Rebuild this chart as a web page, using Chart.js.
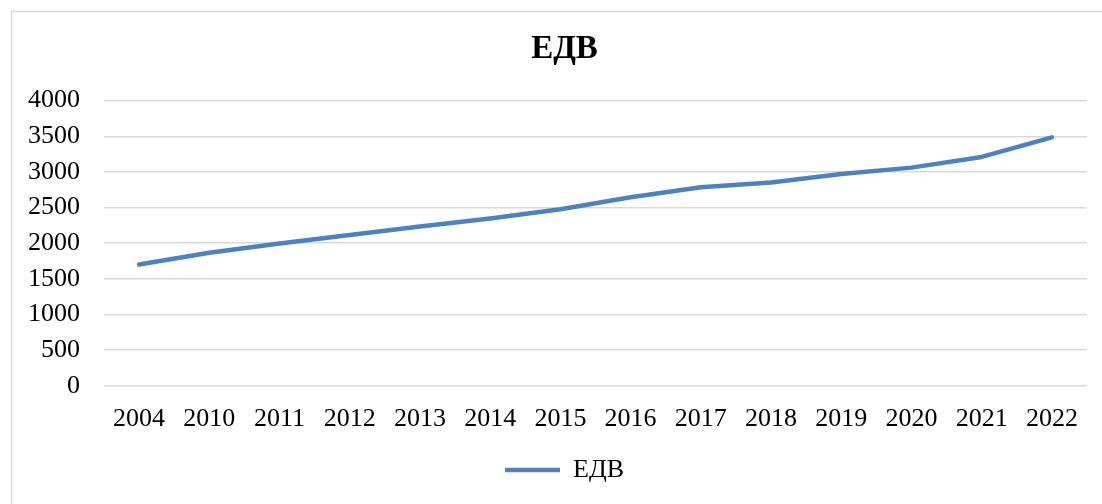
<!DOCTYPE html>
<html>
<head>
<meta charset="utf-8">
<style>
    html, body { margin: 0; padding: 0; background: #fff; }
    #wrap { position: relative; width: 1102px; height: 504px; }
</style>
</head>
<body>
<div id="wrap"><canvas id="chartEdv"></canvas></div>

<script src="https://cdn.jsdelivr.net/npm/chart.js@4.4.6/dist/chart.umd.min.js"></script>
<script>
    // datos
    const years = ['2004', '2010', '2011', '2012', '2013', '2014', '2015', '2016', '2017', '2018', '2019', '2020', '2021', '2022'];
    const edv = [1700, 1865, 1995, 2115, 2235, 2345, 2475, 2645, 2785, 2850, 2970, 3060, 3210, 3485];
    const yTicks = [0, 500, 1000, 1500, 2000, 2500, 3000, 3500, 4000];

    const serif = "'Liberation Serif', 'Times New Roman', serif";

    // marco gris del grafico
    const frame = {
        id: 'frame',
        beforeDraw(chart) {
            const c = chart.ctx;
            c.save();
            c.strokeStyle = '#d9d9d9';
            c.lineWidth = 1.5;
            c.strokeRect(11.5, 11.5, 1120, 520);
            c.restore();
        }
    };

    // centrar titulo y leyenda sobre el marco completo
    const shiftBlocks = {
        id: 'shiftBlocks',
        afterLayout(chart) {
            const dx = 8;
            [chart.titleBlock, chart.legend].forEach(b => {
                if (b) { b.left += dx; b.right += dx; }
            });
        }
    };

    new Chart(document.getElementById('chartEdv'), {
        type: 'line',
        data: {
            labels: years,
            datasets: [{
                label: 'ЕДВ',
                data: edv,
                borderColor: '#4f81bd',
                backgroundColor: '#4f81bd',
                borderWidth: 4.5,
                borderCapStyle: 'round',
                borderJoinStyle: 'round',
                pointRadius: 0,
                pointStyle: 'line',
                tension: 0
            }]
        },
        options: {
            responsive: true,
            maintainAspectRatio: false,
            animation: false,
            layout: { padding: { left: 26, right: 15, top: 20, bottom: 11 } },
            plugins: {
                title: {
                    display: true,
                    text: 'ЕДВ',
                    color: '#000',
                    font: { family: serif, size: 33, weight: 'bold' },
                    padding: { top: 10, bottom: 31 }
                },
                legend: {
                    position: 'bottom',
                    labels: {
                        usePointStyle: true,
                        pointStyle: 'line',
                        pointStyleWidth: 55,
                        boxHeight: 26,
                        color: '#000',
                        font: { family: serif, size: 26 },
                        padding: 4
                    }
                },
                tooltip: { enabled: false }
            },
            scales: {
                x: {
                    offset: true,
                    grid: { display: false, drawTicks: false },
                    border: { display: false },
                    ticks: {
                        color: '#000',
                        font: { family: serif, size: 26 },
                        padding: 18,
                        maxRotation: 0,
                        autoSkip: false
                    }
                },
                y: {
                    min: 0,
                    max: 4000,
                    afterBuildTicks(axis) {
                        axis.ticks = yTicks.map(v => ({ value: v }));
                    },
                    afterFit(axis) { axis.width = 78; },
                    grid: { color: '#d9d9d9', lineWidth: 1.5, drawTicks: false },
                    border: { display: false },
                    ticks: {
                        color: '#000',
                        font: { family: serif, size: 26 },
                        padding: 24,
                        callback: v => String(v)
                    }
                }
            }
        },
        plugins: [frame, shiftBlocks]
    });
</script>
</body>
</html>
